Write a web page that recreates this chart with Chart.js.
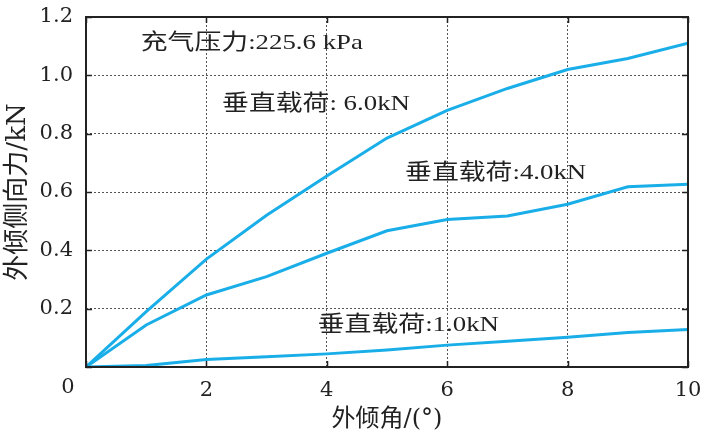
<!DOCTYPE html>
<html>
<head>
<meta charset="utf-8">
<script src="https://cdn.jsdelivr.net/npm/chart.js@4"></script>
<style>
html,body{margin:0;padding:0;background:#fff}
#wrap{width:706px;height:435px}
</style>
</head>
<body>
<div id="wrap"><canvas id="myChart" width="706" height="435"></canvas></div>
<script>
// 外倾角 (deg) and lateral force (kN) for three vertical loads
const angles = [0, 1, 2, 3, 4, 5, 6, 7, 8, 9, 10];
const load6 = [0, 0.19, 0.37, 0.52, 0.655, 0.785, 0.88, 0.955, 1.02, 1.058, 1.11];
const load4 = [0, 0.144, 0.247, 0.31, 0.39, 0.467, 0.506, 0.518, 0.558, 0.618, 0.627];
const load1 = [0, 0.005, 0.026, 0.035, 0.045, 0.058, 0.075, 0.088, 0.102, 0.118, 0.129];

const xTicks = [0, 2, 4, 6, 8, 10];
const yTicks = [0, 0.2, 0.4, 0.6, 0.8, 1.0, 1.2];

const lineColor = '#1aaee8';
const ink = '#222';
const serif = '"Liberation Serif", "Noto Sans CJK SC"';
const wide = '"DejaVu Serif", "Noto Sans CJK SC"';

// text labels placed in data units
const notes = [
  {text: '充气压力:225.6 kPa', x: 0.91, y: 1.11},
  {text: '垂直载荷: 6.0kN', x: 2.26, y: 0.9},
  {text: '垂直载荷:4.0kN', x: 5.30, y: 0.665},
  {text: '垂直载荷:1.0kN', x: 3.85, y: 0.144}
];

function series(vals) {
  return angles.map((a, i) => ({x: a, y: vals[i]}));
}

function lineSet(label, vals) {
  return {
    label: label,
    data: series(vals),
    borderColor: lineColor,
    backgroundColor: lineColor,
    borderWidth: 3,
    pointRadius: 0,
    fill: false,
    tension: 0
  };
}

const frame = {
  id: 'frame',
  afterDraw(chart) {
    const ctx = chart.ctx;
    const a = chart.chartArea;
    const xs = chart.scales.x, ys = chart.scales.y;
    ctx.save();
    ctx.strokeStyle = ink;
    ctx.lineWidth = 1.5;
    // inward ticks on all four sides
    ctx.beginPath();
    xTicks.forEach(v => {
      const px = Math.round(xs.getPixelForValue(v)) + 0.5;
      ctx.moveTo(px, a.bottom); ctx.lineTo(px, a.bottom - 6);
      ctx.moveTo(px, a.top); ctx.lineTo(px, a.top + 6);
    });
    yTicks.forEach(v => {
      const py = Math.round(ys.getPixelForValue(v)) + 0.5;
      ctx.moveTo(a.left, py); ctx.lineTo(a.left + 6, py);
      ctx.moveTo(a.right, py); ctx.lineTo(a.right - 6, py);
    });
    ctx.stroke();
    ctx.lineWidth = 2;
    ctx.strokeRect(a.left, a.top, a.right - a.left, a.bottom - a.top);

    // shared origin label
    ctx.fillStyle = ink;
    ctx.font = '21px ' + wide;
    ctx.textAlign = 'center';
    ctx.textBaseline = 'middle';
    ctx.fillText('0', xs.getPixelForValue(0) - 18, a.bottom + 21);

    // annotations, set a bit wide like the print
    ctx.font = '22px ' + serif;
    ctx.textAlign = 'left';
    notes.forEach(n => {
      ctx.save();
      ctx.translate(xs.getPixelForValue(n.x), ys.getPixelForValue(n.y));
      ctx.scale(1.22, 1);
      ctx.fillText(n.text, 0, 0);
      ctx.restore();
    });
    ctx.restore();
  }
};

const ctx = document.getElementById('myChart');
new Chart(ctx, {
  type: 'line',
  data: {
    datasets: [
      lineSet('垂直载荷:6.0kN', load6),
      lineSet('垂直载荷:4.0kN', load4),
      lineSet('垂直载荷:1.0kN', load1)
    ]
  },
  options: {
    responsive: false,
    animation: false,
    layout: {padding: {top: 17, right: 18, left: 0, bottom: 0}},
    plugins: {legend: {display: false}, tooltip: {enabled: false}},
    scales: {
      x: {
        type: 'linear',
        min: 0,
        max: 10,
        afterBuildTicks: s => { s.ticks = xTicks.map(v => ({value: v})); },
        afterFit: s => { s.height = 68; s.paddingLeft = 0; s.paddingRight = 0; },
        ticks: {
          padding: 11,
          color: ink,
          maxRotation: 0,
          font: {family: wide, size: 21},
          callback: v => v === 0 ? '' : String(v)
        },
        grid: {color: '#555', lineWidth: 1, drawTicks: false},
        border: {display: false, dash: [2, 2]},
        title: {
          display: true,
          text: '外倾角/(°)',
          color: ink,
          font: {family: wide, size: 24},
          padding: {top: 0, bottom: 1}
        }
      },
      y: {
        type: 'linear',
        min: 0,
        max: 1.2,
        afterBuildTicks: s => { s.ticks = yTicks.map(v => ({value: v})); },
        afterFit: s => { s.width = 86; s.paddingTop = 0; s.paddingBottom = 0; },
        ticks: {
          padding: 13,
          color: ink,
          font: {family: wide, size: 21},
          callback: v => v === 0 ? '' : v.toFixed(1)
        },
        grid: {color: '#555', lineWidth: 1, drawTicks: false},
        border: {display: false, dash: [2, 2]},
        title: {
          display: true,
          text: '外倾侧向力/kN',
          color: ink,
          font: {family: wide, size: 26},
          padding: {top: 3, bottom: 0}
        }
      }
    }
  },
  plugins: [frame]
});
</script>
</body>
</html>
